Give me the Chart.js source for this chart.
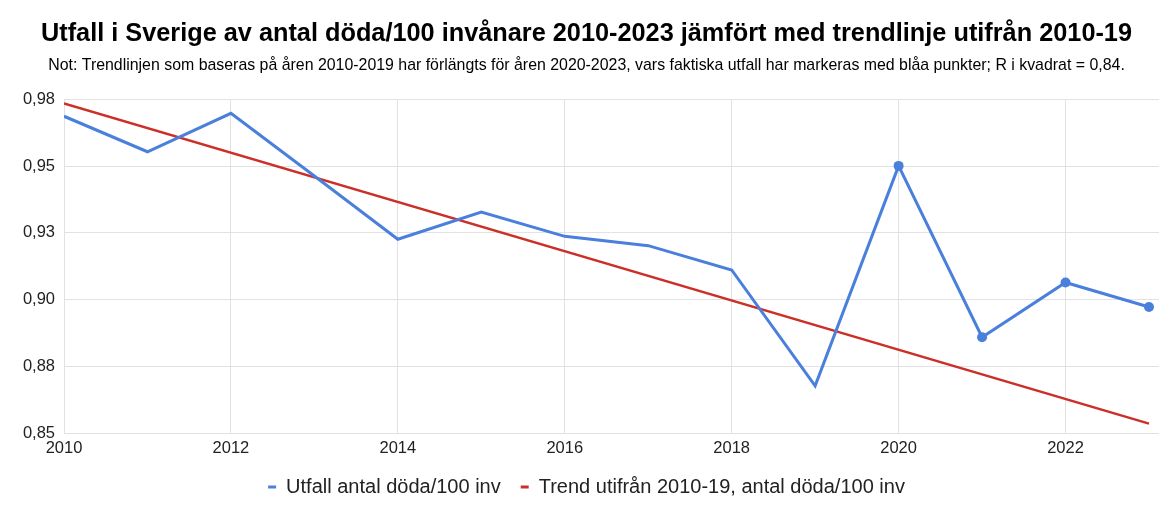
<!DOCTYPE html>
<html lang="sv">
<head>
<meta charset="utf-8">
<title>Utfall i Sverige av antal döda/100 invånare</title>
<script src="https://cdn.jsdelivr.net/npm/chart.js@4.4.1/dist/chart.umd.min.js"></script>
<style>
    html, body { margin: 0; padding: 0; background: #fff; }
    #wrap { width: 1170px; height: 524px; }
</style>
</head>
<body>
<div id="wrap"><canvas id="chartDodsfall"></canvas></div>
<script>
// Données
const years = [2010, 2011, 2012, 2013, 2014, 2015, 2016, 2017, 2018, 2019, 2020, 2021, 2022, 2023];
const utfall = [0.9687, 0.9554, 0.9698, 0.9463, 0.9226, 0.9328, 0.9237, 0.9202, 0.9111, 0.8677, 0.9501, 0.8859, 0.9064, 0.8972];
const trendYears = [2010, 2023];
const trendValues = [0.9735, 0.8535];
const markedFromYear = 2020;

const xTickValues = [2010, 2012, 2014, 2016, 2018, 2020, 2022];
const xTickLabels = ['2010', '2012', '2014', '2016', '2018', '2020', '2022'];
const yTickValues = [0.85, 0.875, 0.9, 0.925, 0.95, 0.975];
const yTickLabels = ['0,85', '0,88', '0,90', '0,93', '0,95', '0,98'];

const titre = 'Utfall i Sverige av antal döda/100 invånare 2010-2023 jämfört med trendlinje utifrån 2010-19';
const sousTitre = 'Not: Trendlinjen som baseras på åren 2010-2019 har förlängts för åren 2020-2023, vars faktiska utfall har markeras med blåa punkter; R i kvadrat = 0,84.';
const labelUtfall = 'Utfall antal döda/100 inv';
const labelTrend = 'Trend utifrån 2010-19, antal döda/100 inv';

const FONT = '"Liberation Sans", Arial, sans-serif';
const BLEU = '#4a80dc';
const ROUGE = '#cc2f27';

const ctx = document.getElementById('chartDodsfall').getContext('2d');

const chartDodsfall = new Chart(ctx, {
    type: 'line',
    data: {
        datasets: [
            {
                label: labelUtfall,
                data: years.map((y, i) => ({ x: y, y: utfall[i] })),
                borderColor: BLEU,
                backgroundColor: BLEU,
                borderWidth: 3,
                tension: 0,
                pointRadius: years.map(y => y >= markedFromYear ? 5 : 0),
                pointBorderWidth: 0,
                pointBackgroundColor: BLEU,
                order: 1
            },
            {
                label: labelTrend,
                data: trendYears.map((y, i) => ({ x: y, y: trendValues[i] })),
                borderColor: ROUGE,
                backgroundColor: ROUGE,
                borderWidth: 2.5,
                tension: 0,
                pointRadius: 0,
                order: 2
            }
        ]
    },
    options: {
        responsive: true,
        maintainAspectRatio: false,
        animation: false,
        layout: {
            padding: { left: 14, right: 11, top: 0, bottom: 17 }
        },
        plugins: {
            title: {
                display: true,
                text: titre,
                color: '#000',
                font: { family: FONT, size: 25.3, weight: 'bold' },
                padding: { top: 19, bottom: 7 }
            },
            subtitle: {
                display: true,
                text: sousTitre,
                color: '#000',
                font: { family: FONT, size: 15.9 },
                padding: { top: 0, bottom: 24 }
            },
            legend: {
                display: true,
                position: 'bottom',
                labels: {
                    color: '#222',
                    font: { family: FONT, size: 20 },
                    usePointStyle: true,
                    pointStyle: 'line',
                    pointStyleWidth: 8,
                    boxHeight: 8,
                    padding: 20,
                    generateLabels: (chart) => {
                        const items = Chart.defaults.plugins.legend.labels.generateLabels(chart);
                        items.forEach(item => { item.lineWidth = 3; });
                        return items;
                    }
                }
            },
            tooltip: { enabled: false }
        },
        scales: {
            x: {
                type: 'linear',
                min: 2010,
                max: 2023.12,
                afterBuildTicks: (scale) => {
                    scale.ticks = xTickValues.map(v => ({ value: v }));
                },
                afterFit: (scale) => {
                    scale.height = 24;
                },
                ticks: {
                    color: '#222',
                    font: { family: FONT, size: 16.5, lineHeight: 1 },
                    padding: 7,
                    maxRotation: 0,
                    callback: (value, index) => xTickLabels[index]
                },
                grid: { color: '#e2e2e2', drawTicks: false, lineWidth: 1 },
                border: { display: false }
            },
            y: {
                min: 0.85,
                max: 0.975,
                afterBuildTicks: (scale) => {
                    scale.ticks = yTickValues.map(v => ({ value: v }));
                },
                afterFit: (scale) => {
                    scale.width = 50;
                },
                ticks: {
                    color: '#222',
                    font: { family: FONT, size: 16.5 },
                    padding: 9,
                    callback: (value, index) => yTickLabels[index]
                },
                grid: { color: '#e2e2e2', drawTicks: false, lineWidth: 1 },
                border: { display: false }
            }
        }
    }
});
</script>
</body>
</html>
